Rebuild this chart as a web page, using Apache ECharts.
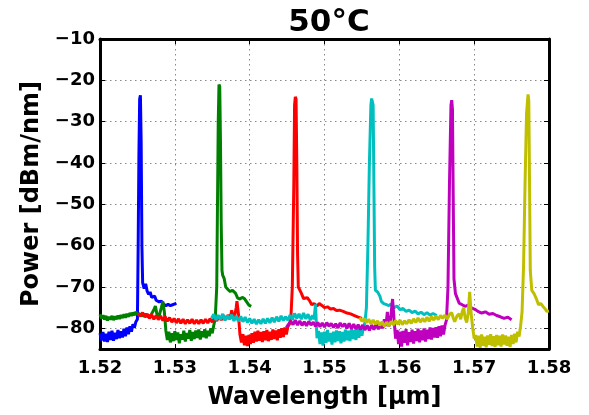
<!DOCTYPE html>
<html>
<head>
<meta charset="utf-8">
<script src="https://cdn.jsdelivr.net/npm/echarts@6/dist/echarts.min.js"></script>
<style>
html,body{margin:0;padding:0;background:#fff;}
#chart{width:589px;height:415px;}
</style>
</head>
<body>
<div id="chart"></div>
<script>
// wavelength [um], power [dBm/nm]
var xTicks = [1.52, 1.53, 1.54, 1.55, 1.56, 1.57, 1.58];
var yTicks = [-80, -70, -60, -50, -40, -30, -20, -10];

var blueData = [
[1.5200,-81.2],[1.5202,-82.9],[1.5204,-80.9],[1.5206,-83.2],[1.5208,-81.3],[1.5210,-83.3],[1.5212,-80.8],[1.5214,-82.8],
[1.5216,-80.6],[1.5218,-83.0],[1.5220,-81.1],[1.5222,-82.6],[1.5224,-80.4],[1.5226,-82.4],[1.5228,-80.7],[1.5230,-82.2],
[1.5232,-80.1],[1.5234,-81.9],[1.5236,-79.8],[1.5238,-81.4],[1.5240,-79.5],[1.5242,-80.8],[1.5244,-79.0],[1.5246,-79.8],
[1.5248,-78.4],[1.5250,-77.8],[1.5251,-60],[1.5252,-38],[1.5253,-24.5],[1.5254,-23.6],[1.5255,-35],[1.5256,-60],
[1.5257,-69.0],[1.5259,-70.4],[1.5261,-69.2],[1.5263,-71.0],[1.5265,-71.8],[1.5267,-71.2],[1.5269,-72.5],[1.5271,-72.8],
[1.5273,-72.2],[1.5275,-73.2],[1.5277,-72.9],[1.5279,-73.6],[1.5282,-73.4],[1.5285,-74.2],[1.5288,-74.5],[1.5291,-74.2],
[1.5294,-74.5],[1.5297,-74.3],[1.5300,-74.1],[1.5302,-73.9]
];

var greenData = [
[1.5200,-76.6],[1.5202,-77.6],[1.5204,-76.8],[1.5206,-77.9],[1.5208,-77.0],[1.5210,-78.1],[1.5212,-77.2],[1.5214,-77.9],
[1.5216,-77.0],[1.5218,-78.0],[1.5220,-77.1],[1.5222,-77.8],[1.5224,-76.9],[1.5226,-77.7],[1.5228,-76.8],[1.5230,-77.5],
[1.5232,-76.6],[1.5234,-77.4],[1.5236,-76.5],[1.5238,-77.2],[1.5240,-76.3],[1.5242,-77.0],[1.5244,-76.2],[1.5246,-76.8],
[1.5248,-76.0],[1.5250,-76.6],[1.5253,-76.5],[1.5256,-77.0],[1.5260,-76.6],[1.5264,-77.2],[1.5268,-76.8],[1.5272,-75.5],
[1.5274,-74.6],[1.5276,-76.5],[1.5279,-77.0],[1.5282,-75.0],[1.5284,-73.5],[1.5286,-76.0],[1.5288,-80.5],[1.5290,-82.8],
[1.5292,-80.8],[1.5294,-83.4],[1.5296,-81.2],[1.5298,-83.1],[1.5300,-80.7],[1.5302,-82.8],[1.5304,-81.0],[1.5306,-83.6],
[1.5308,-81.4],[1.5310,-82.7],[1.5312,-80.6],[1.5314,-83.2],[1.5316,-81.1],[1.5318,-82.5],[1.5320,-80.4],[1.5322,-83.0],
[1.5324,-80.9],[1.5326,-82.6],[1.5328,-80.5],[1.5330,-82.3],[1.5332,-80.3],[1.5334,-82.7],[1.5336,-80.7],[1.5338,-82.1],
[1.5340,-80.2],[1.5342,-82.4],[1.5344,-80.6],[1.5346,-81.9],[1.5348,-80.0],[1.5350,-81.2],[1.5352,-79.3],[1.5354,-77.6],
[1.5356,-70],[1.5357,-50],[1.5358,-30],[1.5359,-21],[1.5360,-21.5],[1.5361,-35],[1.5362,-55],[1.5363,-66],
[1.5364,-67.2],[1.5366,-68.0],[1.5368,-70.0],[1.5371,-70.6],[1.5374,-71.1],[1.5377,-70.8],[1.5379,-70.4],[1.5381,-71.5],
[1.5384,-72.7],[1.5387,-72.9],[1.5390,-72.5],[1.5393,-72.8],[1.5396,-73.6],[1.5399,-74.4],[1.5402,-74.7]
];

var redData = [
[1.5251,-76.3],[1.5254,-77.1],[1.5257,-76.2],[1.5260,-77.3],[1.5263,-76.5],[1.5266,-77.6],[1.5269,-76.7],[1.5272,-77.8],
[1.5275,-76.9],[1.5278,-77.9],[1.5281,-77.0],[1.5284,-78.1],[1.5287,-77.2],[1.5290,-78.3],[1.5293,-77.4],[1.5296,-78.5],
[1.5299,-77.6],[1.5302,-78.7],[1.5305,-77.7],[1.5308,-78.8],[1.5311,-77.8],[1.5314,-78.9],[1.5317,-77.9],[1.5320,-78.8],
[1.5323,-77.8],[1.5326,-78.9],[1.5329,-78.0],[1.5332,-78.9],[1.5335,-77.9],[1.5338,-78.8],[1.5341,-77.8],[1.5344,-78.7],
[1.5347,-77.7],[1.5350,-78.5],[1.5353,-77.3],[1.5356,-78.2],[1.5359,-77.1],[1.5362,-78.0],[1.5365,-76.9],[1.5368,-77.9],
[1.5371,-76.8],[1.5374,-77.6],[1.5376,-75.6],[1.5378,-77.8],[1.5380,-76.9],[1.5382,-75.0],[1.5383,-73.4],[1.5385,-76.5],
[1.5387,-81.5],[1.5389,-83.4],[1.5391,-81.4],[1.5393,-84.1],[1.5395,-81.8],[1.5397,-84.3],[1.5399,-81.6],[1.5401,-83.8],
[1.5403,-81.2],[1.5405,-83.5],[1.5407,-80.8],[1.5409,-83.2],[1.5411,-80.6],[1.5413,-83.0],[1.5415,-80.9],[1.5417,-83.3],
[1.5419,-80.7],[1.5421,-82.9],[1.5423,-80.4],[1.5425,-83.1],[1.5427,-80.8],[1.5429,-82.8],[1.5431,-80.3],[1.5433,-82.6],
[1.5435,-80.5],[1.5437,-82.9],[1.5439,-80.2],[1.5441,-82.3],[1.5443,-80.0],[1.5445,-82.1],[1.5447,-79.8],[1.5449,-81.5],
[1.5451,-79.6],[1.5453,-79.0],[1.5455,-77.8],[1.5457,-70],[1.5459,-45],[1.5460,-26],[1.5461,-24],[1.5462,-24.5],
[1.5463,-40],[1.5464,-62],[1.5465,-70],[1.5467,-69.8],[1.5469,-71.5],[1.5472,-72.8],[1.5474,-73.2],[1.5477,-72.6],
[1.5480,-73.3],[1.5483,-74.3],[1.5486,-74.0],[1.5490,-74.6],[1.5493,-74.0],[1.5496,-74.4],[1.5500,-75.0],[1.5504,-74.8],
[1.5508,-75.3],[1.5512,-75.2],[1.5516,-75.7],[1.5520,-75.6],[1.5525,-75.9],[1.5530,-76.3],[1.5535,-76.5],[1.5540,-76.9],
[1.5545,-77.3],[1.5550,-77.6]
];

var cyanData = [
[1.5349,-77.6],[1.5352,-76.6],[1.5355,-78.0],[1.5358,-76.8],[1.5361,-77.9],[1.5364,-76.5],[1.5367,-78.1],[1.5370,-76.9],
[1.5373,-77.8],[1.5376,-76.7],[1.5379,-78.2],[1.5382,-77.0],[1.5385,-78.3],[1.5388,-77.1],[1.5391,-78.4],[1.5394,-77.3],
[1.5397,-78.6],[1.5400,-77.6],[1.5403,-78.8],[1.5406,-77.8],[1.5409,-79.0],[1.5412,-77.9],[1.5415,-78.9],[1.5418,-77.7],
[1.5421,-78.8],[1.5424,-77.6],[1.5427,-78.7],[1.5430,-77.4],[1.5433,-78.5],[1.5436,-77.2],[1.5439,-78.3],[1.5442,-77.0],
[1.5445,-78.1],[1.5448,-77.2],[1.5451,-78.0],[1.5454,-76.8],[1.5457,-77.9],[1.5460,-76.4],[1.5463,-77.6],[1.5466,-76.5],
[1.5469,-77.8],[1.5472,-76.3],[1.5475,-77.7],[1.5478,-76.6],[1.5481,-78.0],[1.5484,-76.9],[1.5486,-77.8],[1.5488,-74.2],
[1.5489,-78.5],[1.5490,-82.4],[1.5492,-80.6],[1.5494,-83.8],[1.5496,-81.0],[1.5498,-84.2],[1.5500,-80.8],[1.5502,-83.5],
[1.5504,-80.4],[1.5506,-83.2],[1.5508,-81.1],[1.5510,-83.9],[1.5512,-80.8],[1.5514,-83.4],[1.5516,-80.5],[1.5518,-83.1],
[1.5520,-80.7],[1.5522,-83.6],[1.5524,-80.9],[1.5526,-83.2],[1.5528,-80.3],[1.5530,-82.9],[1.5532,-80.6],[1.5534,-83.1],
[1.5536,-80.2],[1.5538,-82.6],[1.5540,-80.4],[1.5542,-82.8],[1.5544,-80.0],[1.5546,-82.3],[1.5548,-79.9],[1.5550,-81.8],
[1.5552,-79.8],[1.5554,-78.6],[1.5556,-75],[1.5558,-60],[1.5560,-40],[1.5562,-26],[1.5563,-24.4],[1.5565,-26],
[1.5566,-45],[1.5567,-65],[1.5568,-70.8],[1.5571,-71.2],[1.5574,-72.2],[1.5576,-73.5],[1.5579,-74.0],[1.5582,-74.2],
[1.5586,-74.5],[1.5589,-74.1],[1.5593,-75.0],[1.5597,-74.6],[1.5601,-75.5],[1.5605,-75.2],[1.5609,-75.9],[1.5613,-75.6],
[1.5617,-76.2],[1.5621,-75.8],[1.5625,-76.5],[1.5629,-76.1],[1.5633,-76.7],[1.5637,-76.2],[1.5641,-76.8],[1.5645,-76.4],
[1.5650,-76.9]
];

var magentaData = [
[1.5449,-79.8],[1.5452,-79.0],[1.5455,-78.3],[1.5458,-79.1],[1.5461,-78.0],[1.5464,-79.2],[1.5467,-78.2],[1.5470,-79.3],
[1.5473,-78.4],[1.5476,-79.4],[1.5479,-78.3],[1.5482,-79.2],[1.5485,-78.5],[1.5488,-79.5],[1.5491,-78.6],[1.5494,-79.6],
[1.5497,-78.7],[1.5500,-79.7],[1.5503,-78.6],[1.5506,-79.5],[1.5509,-78.8],[1.5512,-79.8],[1.5515,-78.9],[1.5518,-79.9],
[1.5521,-78.7],[1.5524,-79.6],[1.5527,-78.9],[1.5530,-80.0],[1.5533,-78.8],[1.5536,-80.1],[1.5539,-79.0],[1.5542,-80.2],
[1.5545,-79.1],[1.5548,-80.3],[1.5551,-79.2],[1.5554,-80.4],[1.5557,-79.3],[1.5560,-80.5],[1.5563,-79.2],[1.5566,-80.3],
[1.5569,-79.0],[1.5572,-80.2],[1.5575,-79.1],[1.5578,-80.0],[1.5580,-77.8],[1.5582,-79.4],[1.5584,-76.0],[1.5586,-79.5],
[1.5588,-78.5],[1.5590,-74.5],[1.5591,-72.9],[1.5593,-78.0],[1.5595,-82.5],[1.5597,-80.4],[1.5599,-83.8],[1.5601,-80.8],
[1.5603,-84.4],[1.5605,-80.6],[1.5607,-83.5],[1.5609,-80.2],[1.5611,-84.1],[1.5613,-80.9],[1.5615,-83.3],[1.5617,-80.3],
[1.5619,-83.7],[1.5621,-80.7],[1.5623,-83.1],[1.5625,-80.1],[1.5627,-83.4],[1.5629,-80.5],[1.5631,-82.9],[1.5633,-80.0],
[1.5635,-83.2],[1.5637,-80.3],[1.5639,-82.6],[1.5641,-79.8],[1.5643,-82.7],[1.5645,-79.9],[1.5647,-82.2],[1.5649,-79.7],
[1.5651,-82.3],[1.5653,-79.5],[1.5655,-81.9],[1.5657,-79.3],[1.5659,-81.5],[1.5661,-79.3],[1.5663,-78.0],[1.5665,-70],
[1.5667,-45],[1.5669,-26],[1.5670,-24.8],[1.5671,-27],[1.5672,-48],[1.5673,-68],[1.5675,-71.6],[1.5678,-73.0],
[1.5680,-73.9],[1.5684,-74.3],[1.5688,-74.7],[1.5692,-74.4],[1.5697,-75.1],[1.5701,-75.4],[1.5705,-75.9],[1.5710,-76.3],
[1.5715,-76.0],[1.5720,-76.6],[1.5725,-76.4],[1.5730,-76.9],[1.5735,-77.2],[1.5740,-77.6],[1.5745,-77.3],[1.5750,-77.9]
];

var yellowData = [
[1.5547,-77.4],[1.5550,-78.3],[1.5553,-77.6],[1.5556,-78.6],[1.5559,-77.8],[1.5562,-78.9],[1.5565,-78.0],[1.5568,-79.0],
[1.5571,-78.2],[1.5574,-79.3],[1.5577,-78.4],[1.5580,-79.5],[1.5583,-78.5],[1.5586,-79.4],[1.5589,-78.3],[1.5592,-79.2],
[1.5595,-78.1],[1.5598,-79.0],[1.5601,-78.0],[1.5604,-79.1],[1.5607,-78.2],[1.5610,-78.9],[1.5613,-77.9],[1.5616,-78.8],
[1.5619,-77.7],[1.5622,-78.6],[1.5625,-77.5],[1.5628,-78.5],[1.5631,-77.6],[1.5634,-78.4],[1.5637,-77.3],[1.5640,-78.3],
[1.5643,-77.2],[1.5646,-78.0],[1.5649,-77.0],[1.5652,-77.9],[1.5655,-76.9],[1.5658,-77.6],[1.5661,-76.8],[1.5664,-77.8],
[1.5667,-76.6],[1.5670,-76.2],[1.5672,-77.5],[1.5674,-78.4],[1.5677,-77.0],[1.5680,-76.5],[1.5682,-77.8],[1.5684,-76.0],
[1.5686,-75.0],[1.5688,-77.5],[1.5690,-78.6],[1.5692,-76.5],[1.5694,-71.2],[1.5696,-76.5],[1.5698,-79.8],[1.5700,-82.5],
[1.5702,-81.6],[1.5704,-84.4],[1.5706,-81.8],[1.5708,-84.7],[1.5710,-81.5],[1.5712,-84.2],[1.5714,-82.0],[1.5716,-84.6],
[1.5718,-81.7],[1.5720,-84.0],[1.5722,-81.4],[1.5724,-84.3],[1.5726,-81.9],[1.5728,-84.5],[1.5730,-81.6],[1.5732,-84.1],
[1.5734,-81.8],[1.5736,-84.4],[1.5738,-81.5],[1.5740,-83.9],[1.5742,-81.7],[1.5744,-84.2],[1.5746,-82.0],[1.5748,-84.5],
[1.5750,-81.6],[1.5752,-83.8],[1.5754,-81.3],[1.5756,-83.4],[1.5758,-80.8],[1.5760,-82.0],[1.5762,-79.5],[1.5764,-76.0],
[1.5766,-65],[1.5768,-45],[1.5770,-28],[1.5772,-23.4],[1.5773,-25],[1.5774,-45],[1.5775,-66],[1.5777,-70.8],
[1.5780,-71.6],[1.5783,-72.8],[1.5786,-74.3],[1.5789,-74.0],[1.5792,-74.7],[1.5795,-75.3],[1.5797,-75.9],[1.5800,-75.8]
];

var seriesList = [
  {data: blueData, color: '#0000ff'},
  {data: greenData, color: '#008000'},
  {data: redData, color: '#ff0000'},
  {data: cyanData, color: '#00bfbf'},
  {data: magentaData, color: '#bf00bf'},
  {data: yellowData, color: '#bfbf00'}
];

var font = 'DejaVu Sans';
function minus(v){ return v < 0 ? '\u2212' + Math.abs(v) : String(v); }

var chart = echarts.init(document.getElementById('chart'));
var option = {
  animation: false,
  backgroundColor: '#fff',
  title: {
    text: '50°C',
    left: 324, top: 2, textAlign: 'center',
    textStyle: {fontFamily: font, fontWeight: 'bold', fontSize: 31, color: '#000'}
  },
  grid: {left: 100, right: 40, top: 39, bottom: 59},
  xAxis: [{
    type: 'value', min: 1.52, max: 1.58, interval: 0.01,
    name: 'Wavelength [μm]', nameLocation: 'middle', nameGap: 37,
    nameTextStyle: {fontFamily: font, fontWeight: 'bold', fontSize: 24, color: '#000'},
    axisLine: {show: true, onZero: false, lineStyle: {color: '#000', width: 3}},
    axisTick: {inside: true, length: 5, lineStyle: {color: '#000'}},
    axisLabel: {formatter: function(v){ return v.toFixed(2); }, fontFamily: font, fontWeight: 'bold', fontSize: 18, color: '#000', margin: 10},
    splitLine: {show: true, lineStyle: {type: [1.5, 3.5], color: '#888', width: 1}}
  }, {
    type: 'value', position: 'top', min: 1.52, max: 1.58, interval: 0.01,
    axisLine: {show: true, onZero: false, lineStyle: {color: '#000', width: 3}},
    axisTick: {inside: true, length: 5, lineStyle: {color: '#000'}},
    axisLabel: {show: false}, splitLine: {show: false}
  }],
  yAxis: [{
    type: 'value', min: -85, max: -10,
    name: 'Power [dBm/nm]', nameLocation: 'middle', nameGap: 46,
    nameTextStyle: {fontFamily: font, fontWeight: 'bold', fontSize: 24, color: '#000'},
    axisLine: {show: true, onZero: false, lineStyle: {color: '#000', width: 3}},
    axisTick: {inside: true, length: 5, customValues: yTicks, lineStyle: {color: '#000'}},
    axisLabel: {customValues: yTicks, formatter: minus, fontFamily: font, fontWeight: 'bold', fontSize: 18, color: '#000', margin: 5},
    splitLine: {show: true, lineStyle: {type: [1.5, 3.5], color: '#888', width: 1}}
  }, {
    type: 'value', position: 'right', min: -85, max: -10,
    axisLine: {show: true, onZero: false, lineStyle: {color: '#000', width: 3}},
    axisTick: {inside: true, length: 5, customValues: yTicks, lineStyle: {color: '#000'}},
    axisLabel: {show: false}, splitLine: {show: false}
  }],
  series: seriesList.map(function(s){
    return {
      type: 'line', xAxisIndex: 0, yAxisIndex: 0,
      data: s.data, showSymbol: false, symbol: 'none',
      lineStyle: {color: s.color, width: 3}, itemStyle: {color: s.color},
      clip: true
    };
  })
};
chart.setOption(option);
</script>
</body>
</html>
